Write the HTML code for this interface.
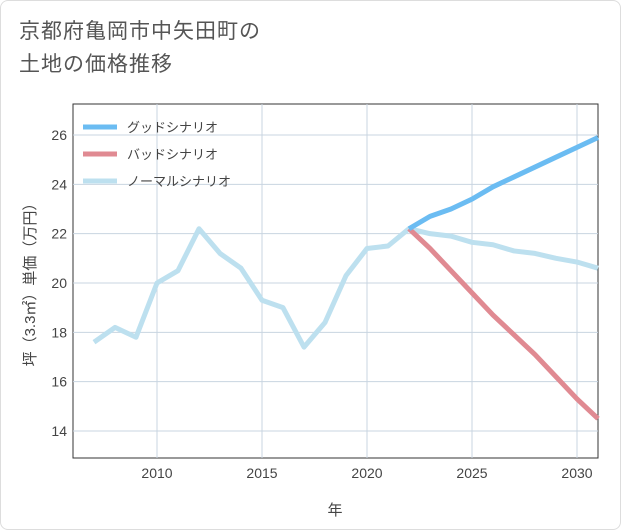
<!DOCTYPE html>
<html><head><meta charset="utf-8"><style>
body{margin:0;background:#fff;font-family:"Liberation Sans","Noto Sans CJK JP",sans-serif}
#wrap{position:relative;width:619px;height:528px;border:1px solid #ddd;border-radius:8px;overflow:hidden}
#title{position:absolute;left:18px;top:14px;font-size:21px;color:#555;line-height:33px;letter-spacing:1px}
svg{position:absolute;left:0;top:0}
text{font-family:"Liberation Sans","Noto Sans CJK JP",sans-serif}
</style></head><body>
<div id="wrap">
<div id="title">京都府亀岡市中矢田町の<br>土地の価格推移</div>
<svg id="chart" width="621" height="530"></svg>
</div>
<script>
const years=[2007,2008,2009,2010,2011,2012,2013,2014,2015,2016,2017,2018,2019,2020,2021,2022,2023,2024,2025,2026,2027,2028,2029,2030,2031];
const normalVals=[17.6,18.2,17.8,20.0,20.5,22.2,21.2,20.6,19.3,19.0,17.4,18.4,20.3,21.4,21.5,22.2,22.0,21.9,21.65,21.55,21.3,21.2,21.0,20.85,20.6];
const forecastYears=[2022,2023,2024,2025,2026,2027,2028,2029,2030,2031];
const goodVals=[22.2,22.7,23.0,23.4,23.9,24.3,24.7,25.1,25.5,25.9];
const badVals=[22.2,21.4,20.5,19.6,18.7,17.9,17.1,16.2,15.3,14.5];
const xTicks=[2010,2015,2020,2025,2030];
const yTicks=[14,16,18,20,22,24,26];
const legendLabels=["グッドシナリオ","バッドシナリオ","ノーマルシナリオ"];
const colors=["#6bbcf2","#e08a92","#bde0ef"];
const NS="http://www.w3.org/2000/svg";
const svg=document.getElementById('chart');
const L=72,R=597,T=103,B=457;
const X=y=>156+(y-2010)*21;
const Y=v=>134+(26-v)*(296/12);
function mk(tag,attrs,parent){const e=document.createElementNS(NS,tag);for(const k in attrs)e.setAttribute(k,attrs[k]);(parent||svg).appendChild(e);return e;}
const plot=mk('rect',{x:L,y:T,width:R-L,height:B-T,fill:'#fff',stroke:'#333','stroke-width':1});


xTicks.forEach(t=>{
 const g=mk('line',{x1:X(t),x2:X(t),y1:T,y2:B,stroke:'#c8d4e0','stroke-width':1});
 
 
 const tx=mk('text',{x:X(t),y:477,'text-anchor':'middle','font-size':14,fill:'#444'});
 tx.textContent=t;
 
 
});
yTicks.forEach(t=>{
 const g=mk('line',{x1:L,x2:R,y1:Y(t),y2:Y(t),stroke:'#c8d4e0','stroke-width':1});
 
 
 const tx=mk('text',{x:66,y:Y(t)+5,'text-anchor':'end','font-size':14,fill:'#444'});
 tx.textContent=t;
 
 
});
const xt=mk('text',{x:334,y:514,'text-anchor':'middle','font-size':15,fill:'#444'});
xt.textContent='年';


const yt=mk('text',{x:0,y:0,'text-anchor':'middle','font-size':15,fill:'#444',transform:'translate(34,280) rotate(-90)'});
yt.textContent='坪（3.3㎡）単価（万円）';


function line(xs,vs,c,name){
 const p=mk('polyline',{points:xs.map((x,i)=>X(x)+','+Y(vs[i])).join(' '),fill:'none',stroke:c,'stroke-width':5,'stroke-linejoin':'round'});
 
 
}
line(years,normalVals,colors[2],'normal-scenario-line');
line(forecastYears,badVals,colors[1],'bad-scenario-line');
line(forecastYears,goodVals,colors[0],'good-scenario-line');
legendLabels.forEach((lb,i)=>{
 const y=126+i*27;
 const l=mk('line',{x1:82,x2:116,y1:y,y2:y,stroke:colors[i],'stroke-width':5});
 
 
 const t=mk('text',{x:126,y:y+5,'font-size':13,fill:'#444'});
 t.textContent=lb;
 
 
});
</script>
</body></html>
